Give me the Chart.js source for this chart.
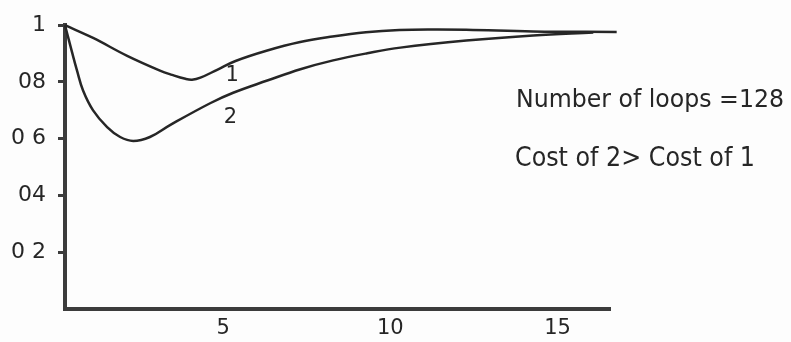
<!DOCTYPE html>
<html>
<head>
<meta charset="utf-8">
<script src="https://cdn.jsdelivr.net/npm/chart.js@4/dist/chart.umd.min.js"></script>
<style>
    html, body { margin: 0; padding: 0; background: #fdfdfd; }
    #wrap { width: 791px; height: 342px; }
</style>
</head>
<body>
<div id="wrap"><canvas id="loopChart" width="791" height="342"></canvas></div>
<script>
// Curve 1
const curve1X = [0, 0.84, 1.86, 2.84, 3.2, 3.6, 3.8, 4.05, 4.55, 5.1, 6.05, 7.0, 8.0, 9.0, 10.0, 11.0, 12.0, 14.0, 16.5];
const curve1Y = [1.0, 0.955, 0.892, 0.84, 0.825, 0.811, 0.808, 0.815, 0.843, 0.874, 0.911, 0.94, 0.96, 0.975, 0.983, 0.985, 0.984, 0.978, 0.976];

// Curve 2
const curve2X = [0, 0.21, 0.36, 0.54, 0.84, 1.26, 1.65, 2.04, 2.54, 3.14, 4.34, 5.03, 6.05, 7.04, 8.02, 9.04, 10.03, 12.0, 14.0, 15.8];
const curve2Y = [1.0, 0.905, 0.84, 0.77, 0.7, 0.641, 0.606, 0.592, 0.606, 0.648, 0.725, 0.762, 0.805, 0.845, 0.876, 0.901, 0.921, 0.946, 0.964, 0.974];

// Axis ticks
const xTickValues = [5, 10, 15];
const yTickValues = [0.2, 0.4, 0.6, 0.8, 1.0];
const yTickLabels = ['0 2', '04', '0 6', '08', '1'];

// Curve tags and side notes
const curveTags = ['1', '2'];
const curveTagX = [5.0, 4.95];
const curveTagY = [0.822, 0.676];
const noteLines = ['Number of loops =128', 'Cost of 2> Cost of 1'];

const ink = '#262626';
const axisInk = '#3c3c3c';
const handFont = '"DejaVu Sans", sans-serif';

function toPoints(xs, ys) {
    return xs.map((v, i) => ({ x: v, y: ys[i] }));
}

// draws the "1"/"2" tags and the notes on the right
const notesPlugin = {
    id: 'notes',
    afterDatasetsDraw(chart) {
        const { ctx } = chart;
        const xs = chart.scales.x;
        const ys = chart.scales.y;
        ctx.save();
        ctx.fillStyle = ink;

        ctx.font = '21px ' + handFont;
        ctx.textAlign = 'center';
        ctx.textBaseline = 'middle';
        curveTags.forEach((t, i) => {
            ctx.fillText(t, xs.getPixelForValue(curveTagX[i]), ys.getPixelForValue(curveTagY[i]));
        });

        // narrow hand lettering: squeeze the text to the width seen in the scan
        const spots = [
            { x: 516, y: 107, w: 268, size: 25 },
            { x: 515, y: 166, w: 240, size: 26 }
        ];
        ctx.textAlign = 'left';
        ctx.textBaseline = 'alphabetic';
        noteLines.forEach((line, i) => {
            const s = spots[i];
            ctx.font = s.size + 'px ' + handFont;
            const k = s.w / ctx.measureText(line).width;
            ctx.save();
            ctx.translate(s.x, s.y);
            ctx.scale(k, 1);
            ctx.fillText(line, 0, 0);
            ctx.restore();
        });
        ctx.restore();
    }
};

const lineStyle = {
    borderColor: ink,
    borderWidth: 2.5,
    pointRadius: 0,
    fill: false,
    tension: 0.4,
    clip: false
};

new Chart(document.getElementById('loopChart').getContext('2d'), {
    type: 'line',
    data: {
        datasets: [
            Object.assign({ label: '1', data: toPoints(curve1X, curve1Y) }, lineStyle),
            Object.assign({ label: '2', data: toPoints(curve2X, curve2Y) }, lineStyle)
        ]
    },
    options: {
        responsive: false,
        animation: false,
        layout: { padding: { left: 0, top: 22, right: 181, bottom: 0 } },
        plugins: {
            legend: { display: false },
            tooltip: { enabled: false }
        },
        scales: {
            x: {
                type: 'linear',
                min: 0,
                max: 16.3,
                afterBuildTicks: s => { s.ticks = xTickValues.map(v => ({ value: v })); },
                afterFit: s => { s.height = 33; },
                grid: { display: true, drawOnChartArea: false, drawTicks: false },
                border: { display: true, width: 4, color: axisInk },
                ticks: {
                    padding: 7,
                    labelOffset: -9,
                    color: ink,
                    font: { family: handFont, size: 21 },
                    maxRotation: 0
                }
            },
            y: {
                min: 0,
                max: 1,
                afterBuildTicks: s => { s.ticks = yTickValues.map(v => ({ value: v })); },
                afterFit: s => { s.width = 65; },
                grid: { display: true, drawOnChartArea: false, drawTicks: true, tickLength: 7, tickWidth: 3, tickColor: axisInk },
                border: { display: true, width: 4, color: axisInk },
                ticks: {
                    padding: 12,
                    color: ink,
                    font: { family: handFont, size: 22 },
                    callback: (v, i) => yTickLabels[i]
                }
            }
        }
    },
    plugins: [notesPlugin]
});
</script>
</body>
</html>
